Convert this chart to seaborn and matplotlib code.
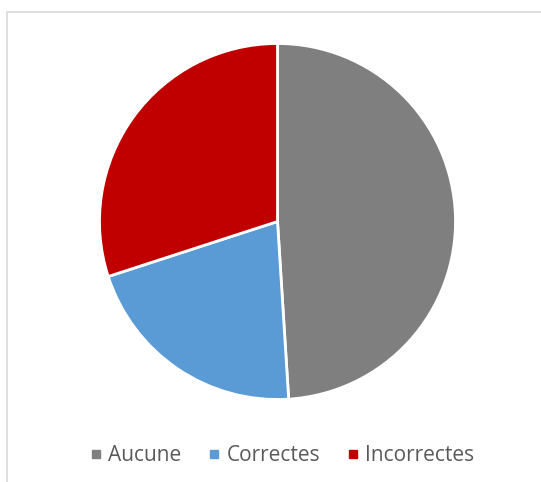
import matplotlib
matplotlib.use("Agg")
import matplotlib.pyplot as plt
import seaborn as sns
from matplotlib.lines import Line2D
from matplotlib.patches import Rectangle

categories = ["Aucune", "Correctes", "Incorrectes"]
values = [49, 21, 30]
colors = ["#7F7F7F", "#5B9BD5", "#C00000"]

sns.set_theme(style="white")
plt.rcParams['font.family'] = ['Open Sans', 'DejaVu Sans']

W, H = 541, 482
fig = plt.figure(figsize=(W / 100, H / 100), dpi=100)
fig.patch.set_facecolor("white")

# chart frame
fig.patches.append(Rectangle((6.5 / W, -0.1), 1.2, (H - 11.5) / H + 0.1,
                             transform=fig.transFigure, fill=False,
                             edgecolor="#D9D9D9", linewidth=1.2))

cx, cy, r = 277.5, 221.5, 178
ax = fig.add_axes([(cx - r) / W, (H - cy - r) / H, 2 * r / W, 2 * r / H])
ax.pie(values, colors=colors, startangle=90, counterclock=False,
       wedgeprops=dict(edgecolor="white", linewidth=2))
ax.set_xlim(-1, 1)
ax.set_ylim(-1, 1)
ax.set_aspect("auto")
ax.axis("off")

handles = [Line2D([], [], marker="s", linestyle="none", markersize=5.2,
                  markerfacecolor=c, markeredgecolor=c) for c in colors]
leg = fig.legend(handles, categories, loc="center", ncol=3,
                 bbox_to_anchor=(283 / W, (H - 455.5) / H), frameon=False,
                 fontsize=15, handletextpad=0.4, columnspacing=1.37,
                 handlelength=0.4)
for t in leg.get_texts():
    t.set_color("#595959")

fig.savefig("out.png", dpi=100, facecolor="white")
